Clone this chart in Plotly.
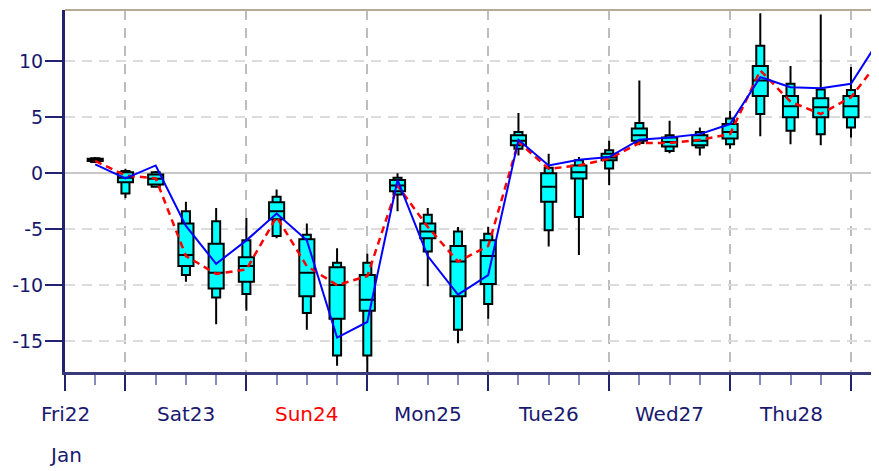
import plotly.graph_objects as go

# Forecast lead time in hours after Fri 22 Jan 00:00 (6-hourly ensemble steps)
lead_hours = [18, 24, 30, 36, 42, 48, 54, 60, 66, 72, 78, 84, 90, 96, 102,
              108, 114, 120, 126, 132, 138, 144, 150, 156, 162, 168, 174]

ens_max    = [1.45, 0.4, 0.2, -2.55, -3.1, -4.0, -1.45, -4.5, -6.7, -7.2, 0.0, -3.1, -4.8, -4.8, 5.4,
              1.75, 1.45, 2.9, 8.3, 4.7, 4.1, 5.6, 14.3, 9.6, 14.2, 9.5, 13.0]
ens_p90    = [1.35, 0.2, 0.1, -3.4, -4.3, -6.0, -2.1, -5.5, -8.0, -8.0, -0.4, -3.7, -5.2, -5.4, 3.7,
              0.5, 1.16, 2.05, 4.5, 3.4, 3.7, 4.9, 11.4, 8.0, 7.5, 7.45, 11.3]
ens_p75    = [1.3, 0.1, -0.1, -4.5, -6.3, -7.5, -2.6, -5.9, -8.4, -9.1, -0.6, -4.5, -6.5, -6.0, 3.4,
              0.0, 0.7, 1.75, 4.0, 3.2, 3.4, 4.4, 9.6, 6.9, 6.7, 6.9, 11.0]
ens_median = [1.2, -0.4, -0.5, -7.3, -8.9, -8.3, -3.4, -8.9, -10.0, -11.3, -1.1, -5.2, -7.9, -7.4, 2.9,
              -1.2, 0.1, 1.4, 3.4, 2.8, 2.9, 3.7, 8.3, 6.0, 5.9, 6.0, 9.0]
ens_p25    = [1.1, -0.8, -1.0, -8.3, -10.3, -9.7, -4.1, -11.0, -13.0, -12.3, -1.6, -5.8, -11.0, -9.9, 2.5,
              -2.55, -0.47, 1.16, 2.9, 2.4, 2.5, 3.1, 6.9, 5.0, 5.0, 5.0, 6.7]
ens_p10    = [1.0, -1.8, -1.2, -9.1, -11.1, -10.8, -5.6, -12.5, -16.3, -16.3, -1.9, -7.0, -14.0, -11.7, 2.2,
              -5.1, -3.9, 0.42, 2.7, 2.0, 2.3, 2.6, 5.3, 3.8, 3.5, 4.1, 5.9]
ens_min    = [0.95, -2.2, -1.3, -9.7, -13.5, -12.3, -5.8, -14.0, -17.2, -18.5, -3.4, -10.1, -15.2, -13.0, 1.6,
              -6.55, -7.3, -1.07, 2.5, 1.8, 1.6, 2.2, 3.3, 2.6, 2.5, 3.2, 5.0]
ens_mean   = [1.1, -0.2, -0.45, -7.4, -9.0, -8.6, -3.9, -8.3, -10.0, -9.2, -1.1, -4.8, -7.9, -6.5, 2.8,
              0.4, 0.7, 1.3, 2.7, 2.7, 3.0, 3.5, 9.2, 6.4, 5.3, 6.8, 10.3]
control    = [0.8, -0.45, 0.7, -4.7, -8.1, -6.0, -3.6, -6.0, -14.7, -13.3, -0.6, -7.4, -10.85, -9.1, 3.0,
              0.7, 1.2, 1.45, 3.0, 3.2, 3.5, 4.4, 8.6, 7.7, 7.6, 8.0, 12.2]

day_noon_hours = [12, 36, 60, 84, 108, 132, 156]
day_labels = ["Fri22", "Sat23", "Sun24", "Mon25", "Tue26", "Wed27", "Thu28"]
day_colors = ["#191970", "#191970", "#ff0000", "#191970", "#191970", "#191970", "#191970"]
month_label = "Jan"
major_tick_hours = [12, 24, 48, 72, 96, 120, 144, 168]
y_ticks = [-15, -10, -5, 0, 5, 10]
y_tick_text = [str(v) for v in y_ticks]

NAVY = "#191970"
FONT = "DejaVu Sans"

fig = go.Figure()

# outer (10-90 %) box with min/max whiskers
fig.add_trace(go.Box(
    x=lead_hours, q1=ens_p10, median=ens_median, q3=ens_p90,
    lowerfence=ens_min, upperfence=ens_max,
    width=1.6, whiskerwidth=0, boxpoints=False,
    fillcolor="#00ffff", line=dict(color="#000000", width=2),
    hoverinfo="skip", showlegend=False))

# inner (25-75 %) box
fig.add_trace(go.Box(
    x=lead_hours, q1=ens_p25, median=ens_median, q3=ens_p75,
    lowerfence=ens_p25, upperfence=ens_p75,
    width=3.0, whiskerwidth=0, boxpoints=False,
    fillcolor="#00ffff", line=dict(color="#000000", width=2),
    hoverinfo="skip", showlegend=False))

fig.add_trace(go.Scatter(
    x=lead_hours, y=ens_mean, mode="lines",
    line=dict(color="#ff0000", width=2.5, dash="7px,5px"),
    hoverinfo="skip", showlegend=False))

fig.add_trace(go.Scatter(
    x=lead_hours, y=control, mode="lines",
    line=dict(color="#0000ff", width=2),
    hoverinfo="skip", showlegend=False))

annotations = []
for h, lab, col in zip(day_noon_hours, day_labels, day_colors):
    annotations.append(dict(
        x=h, y=0, xref="x", yref="paper", text=lab, showarrow=False,
        xanchor="center", yanchor="middle", yshift=-42,
        font=dict(family=FONT, size=20, color=col)))
annotations.append(dict(
    x=day_noon_hours[0], y=0, xref="x", yref="paper", text=month_label, showarrow=False,
    xanchor="center", yanchor="middle", yshift=-83,
    font=dict(family=FONT, size=20, color=NAVY)))

fig.update_layout(
    template="none",
    width=879, height=471,
    margin=dict(l=57, r=0, t=2, b=107, pad=0),
    paper_bgcolor="white", plot_bgcolor="white",
    font=dict(family=FONT, size=19, color=NAVY),
    boxmode="overlay",
    showlegend=False,
    annotations=annotations,
    shapes=[dict(type="line", xref="paper", yref="paper", x0=0, x1=1, y0=1, y1=1,
                 line=dict(color="#b4aa96", width=2), layer="above")],
    xaxis=dict(
        range=[12, 175.15], automargin=False,
        tickmode="array", tickvals=major_tick_hours, showticklabels=False,
        ticks="outside", ticklen=16, tickwidth=2, tickcolor="#22226e",
        showline=True, linecolor="#3a3a7a", linewidth=3,
        showgrid=True, gridcolor="#bdbdbd", gridwidth=2, griddash="10px,8px",
        zeroline=False,
        minor=dict(tickmode="array", tickvals=lead_hours, ticks="outside",
                   ticklen=10, tickwidth=2, tickcolor="#8c8cbc", showgrid=False),
    ),
    yaxis=dict(
        range=[-17.77, 14.6], automargin=False,
        tickmode="array", tickvals=y_ticks, ticktext=y_tick_text,
        ticks="outside", ticklen=17, tickwidth=2, tickcolor="#22226e",
        tickfont=dict(family=FONT, size=19, color=NAVY),
        ticklabelstandoff=-2,
        showline=True, linecolor="#22226e", linewidth=3,
        showgrid=True, gridcolor="#dcdcdc", gridwidth=2, griddash="10px,7px",
        zeroline=True, zerolinecolor="#c8c8c8", zerolinewidth=2,
    ),
)

fig.write_html("out.html")
